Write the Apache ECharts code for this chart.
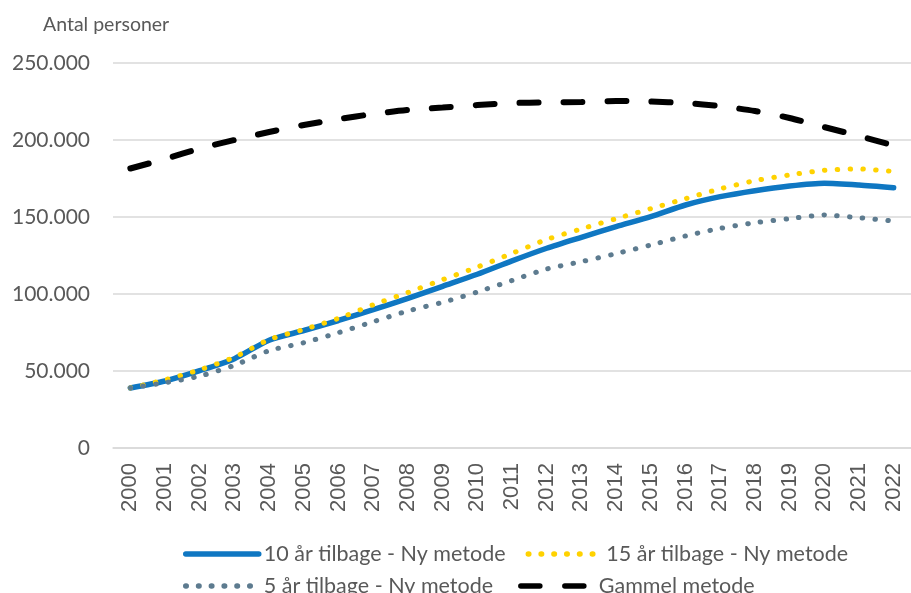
<!DOCTYPE html>
<html>
<head>
<meta charset="utf-8">
<script src="https://cdn.jsdelivr.net/npm/echarts@6/dist/echarts.min.js"></script>
<style>
  html, body { margin: 0; padding: 0; background: #fff; }
  #chart { width: 911px; height: 593px; }
</style>
</head>
<body>
<div id="chart"></div>
<script>
// Years on the category axis
const years = ['2000','2001','2002','2003','2004','2005','2006','2007','2008','2009','2010',
  '2011','2012','2013','2014','2015','2016','2017','2018','2019','2020','2021','2022'];

// Number of persons per method
const ny10 = [39000, 43500, 50200, 58000, 70000, 76300, 82800, 89800, 97200, 105000, 112800,
  121500, 129700, 136800, 143700, 150200, 157800, 163200, 167100, 170100, 171900, 170800, 169000];
const ny15 = [39000, 44300, 50800, 59000, 70400, 77000, 84200, 93000, 101000, 109300, 117500,
  126400, 135400, 142300, 148900, 155400, 161900, 168300, 173600, 177300, 180300, 181200, 179500];
const ny5 = [39000, 42400, 46700, 53700, 63200, 68400, 74900, 82000, 89000, 94600, 101300,
  108800, 116200, 121000, 126200, 131800, 137700, 142600, 146300, 148900, 151300, 149500, 147400];
const gammel = [181500, 187700, 194500, 200000, 205200, 209700, 213600, 216900, 219500, 221100, 222700,
  224000, 224400, 224700, 225300, 225000, 224000, 222000, 218800, 214300, 208400, 202600, 196500];

// Series names shown in the legend
const names = ['10 år tilbage - Ny metode', '15 år tilbage - Ny metode', '5 år tilbage - Ny metode', 'Gammel metode'];

const textGrey = '#595959';
const fmt = v => String(v).replace(/\B(?=(\d{3})+(?!\d))/g, '.');

const chart = echarts.init(document.getElementById('chart'), null, { renderer: 'canvas' });

const legendBase = {
  itemWidth: 73, itemHeight: 14, padding: 0,
  textStyle: { color: textGrey, fontFamily: 'Lato', fontSize: 21.5 },
  itemStyle: { opacity: 0 },
  lineStyle: { width: 5.5, cap: 'round' }
};

chart.setOption({
  animation: false,
  title: {
    text: 'Antal personer',
    left: 38, top: 10,
    textStyle: { color: textGrey, fontFamily: 'Lato', fontSize: 19.5, fontWeight: 'normal' }
  },
  grid: { left: 113, top: 63, width: 807, height: 385, containLabel: false },
  xAxis: {
    type: 'category',
    data: years,
    boundaryGap: true,
    axisLine: { show: true, lineStyle: { color: '#d9d9d9', width: 1.5 } },
    axisTick: { show: false },
    axisLabel: { rotate: 90, margin: 15, color: textGrey, fontFamily: 'Liberation Sans', fontSize: 22, interval: 0 }
  },
  yAxis: {
    type: 'value',
    min: 0, max: 250000, interval: 50000,
    axisLine: { show: false },
    axisTick: { show: false },
    splitLine: { lineStyle: { color: '#d9d9d9', width: 1.5 } },
    axisLabel: { margin: 23, color: textGrey, fontFamily: 'Lato', fontSize: 21, formatter: fmt }
  },
  legend: [
    Object.assign({ data: [names[0], names[1]], left: 183, top: 543, itemGap: 20 }, legendBase),
    Object.assign({ data: [names[2], names[3]], left: 183, top: 575, itemGap: 25 }, legendBase)
  ],
  series: [
    {
      name: names[0], type: 'line', data: ny10, smooth: 0.25, symbol: 'none',
      lineStyle: { color: '#0F77C2', width: 5.5, cap: 'round' },
      itemStyle: { color: '#0F77C2' }
    },
    {
      name: names[1], type: 'line', data: ny15, smooth: 0.25, symbol: 'none',
      lineStyle: { color: '#FFD200', width: 5, type: [0.5, 12.3], cap: 'round' },
      itemStyle: { color: '#FFD200' }
    },
    {
      name: names[2], type: 'line', data: ny5, smooth: 0.25, symbol: 'none',
      lineStyle: { color: '#5D7B8F', width: 5, type: [0.5, 12.3], cap: 'round' },
      itemStyle: { color: '#5D7B8F' }
    },
    {
      name: names[3], type: 'line', data: gammel, smooth: 0.25, symbol: 'none',
      lineStyle: { color: '#000000', width: 6, type: [19, 25], cap: 'round' },
      itemStyle: { color: '#000000' }
    }
  ]
});
</script>
</body>
</html>
